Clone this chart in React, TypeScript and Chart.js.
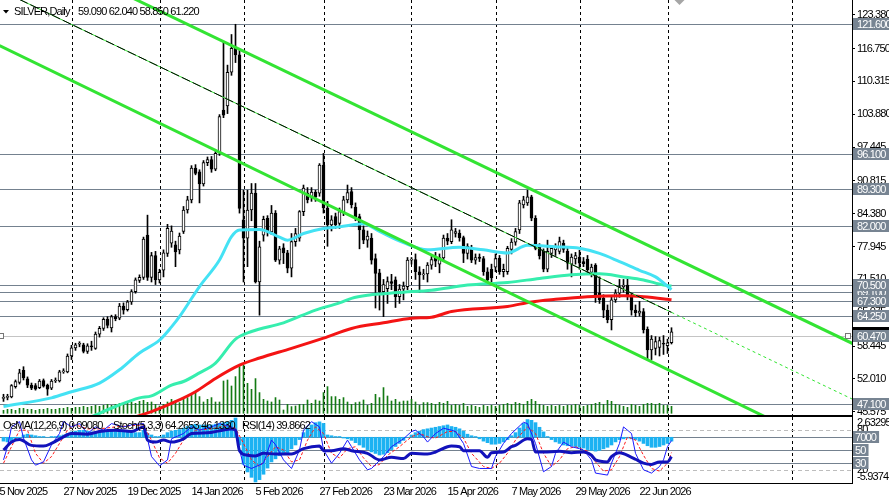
import React, { useEffect, useRef } from 'react';
import { Chart, registerables } from 'chart.js';
Chart.register(...registerables);

const FONT = '"Liberation Sans", Arial, sans-serif';
const LETTER_SPACING = '-0.85px';

// ---------- price data (daily bars, index 0 = 5 Nov 2025) ----------
const opens = [48.2,48.4,48.5,50.5,51.3,53.7,52.0,50.8,50.7,50.3, 51.7,50.8,50.2,51.6,51.6,53.4,53.4,56.5,58.1,58.8, 58.7,57.4,58.5,58.0,60.8,61.9,63.7,62.0,64.2,63.9, 66.3,65.6,67.1,69.1,71.3,71.9,80.2,71.9,76.2,71.4, 73.3,76.6,78.6,78.3,77.3,80.9,85.1,87.1,93.3,92.6, 90.2,94.4,95.0,93.1,96.3,104.7,105.5,112.1,116.8,115.5, 83.2,79.6,85.1,88.4,71.0,80.2,83.5,80.8,84.5,75.3, 77.7,76.7,73.7,78.9,79.6,84.8,88.4,87.6,88.6,88.4, 93.9,85.5,82.2,83.8,82.5,84.8,87.1,88.7,85.7,83.8, 81.2,79.2,79.6,75.6,72.8,69.1,69.7,71.1,71.4,68.1, 69.6,70.1,75.3,75.4,73.0,72.4,72.6,74.3,76.0,74.5, 75.7,79.6,78.9,80.5,80.6,79.7,76.6,77.6,75.3,75.9, 75.6,73.0,73.5,73.9,75.7,73.0,73.0,77.4,78.8,81.2, 86.1,86.5,87.7,83.5,77.9,77.0,73.5,76.6,77.3,77.0, 78.6,77.0,74.5,75.5,75.9,75.0,75.5,72.9,74.3,68.9, 67.8,65.5,63.6,67.5,68.8,70.1,70.4,68.1,65.5,64.9, 65.2,61.7,57.7,58.0,58.2,59.0,58.5,59.09];
const highs = [49.0,49.0,50.9,51.8,53.9,54.4,52.4,51.2,51.1,51.9, 52.0,51.0,51.9,52.2,53.7,54.0,56.9,58.6,59.0,59.3, 59.0,58.9,59.4,61.2,62.3,64.0,64.2,64.5,64.6,66.8, 66.9,67.4,69.5,71.8,72.4,79.8,84.1,76.8,77.0,73.5, 77.3,82.3,82.0,79.0,80.6,85.8,87.8,93.8,94.0,93.0, 94.8,95.5,95.6,96.6,103.8,118.0,113.5,119.5,121.5,116.5, 89.0,89.0,90.3,90.3,79.0,83.9,84.0,86.0,85.0,78.0, 78.5,77.2,80.5,81.5,85.0,90.0,89.5,89.5,89.0,94.2, 96.2,86.8,84.0,84.5,85.5,87.8,90.0,89.5,86.5,84.3, 82.0,81.0,80.5,76.5,73.5,71.5,72.0,72.5,72.0,70.5, 71.0,75.8,75.8,76.5,74.0,73.5,74.8,76.0,76.8,76.5, 80.2,80.5,83.2,81.5,81.2,80.0,78.5,78.2,76.5,76.5, 76.0,73.8,74.5,76.5,76.2,74.5,78.0,79.5,81.5,87.0, 87.8,89.0,88.0,84.0,78.5,77.5,79.2,78.0,78.5,79.8, 79.2,77.8,76.5,76.8,77.2,75.8,76.2,74.5,74.6,72.0, 68.5,66.5,68.2,69.5,71.5,71.5,71.8,68.8,66.5,67.2, 65.8,62.2,60.5,60.3,60.2,60.5,59.8,62.04];
const lows = [47.6,47.9,48.3,50.2,51.0,51.8,50.3,49.9,49.8,50.1, 50.4,48.8,49.9,51.3,51.4,53.1,53.2,55.8,57.6,58.3, 57.1,57.0,57.6,57.8,60.2,61.5,62.0,61.2,63.4,63.6, 64.7,65.3,66.6,68.8,70.9,71.5,71.3,71.0,70.5,70.8, 72.0,76.0,77.8,74.0,76.5,80.5,84.5,86.5,92.0,86.5, 89.8,93.8,92.5,92.8,95.8,103.2,104.0,111.5,114.0,84.5, 71.0,74.0,83.0,70.8,64.5,79.0,80.0,80.3,75.0,74.5, 74.6,72.8,72.0,78.0,79.0,84.0,86.5,86.8,86.8,87.8, 84.5,78.0,81.0,81.5,81.5,84.0,86.5,85.5,83.0,77.5, 78.5,77.8,74.5,65.9,65.5,64.2,66.8,69.5,66.0,66.8, 67.5,69.5,74.5,71.5,69.0,71.5,71.0,73.5,74.0,72.8, 75.0,78.3,78.5,79.8,79.0,74.8,75.5,74.8,74.5,75.0, 72.3,70.5,71.0,73.0,72.5,72.0,72.5,76.5,78.2,80.5, 85.5,86.0,83.0,77.3,75.5,73.0,73.0,75.8,76.2,76.5, 76.8,73.5,72.0,74.5,73.5,74.0,72.5,72.0,67.0,66.8, 64.0,63.0,61.6,67.0,68.0,69.0,67.5,64.5,64.2,64.3, 61.0,55.7,55.8,56.7,56.5,56.8,57.0,58.85];
const closes = [48.4,48.5,50.7,51.5,53.2,52.2,50.8,50.2,50.0,51.6, 50.6,50.0,51.6,51.8,53.4,53.6,56.5,58.1,58.7,58.9, 57.4,58.5,58.3,60.8,61.9,63.7,62.5,64.2,63.8,66.3, 65.5,67.1,69.1,71.4,71.9,79.4,71.9,76.2,71.4,72.9, 76.7,81.5,81.0,76.9,80.0,85.1,87.1,93.3,92.3,90.2, 94.4,95.0,93.1,96.2,103.4,103.7,112.1,116.8,115.5,85.4, 79.6,85.1,88.4,71.0,77.9,83.3,80.8,84.5,75.3,77.5, 76.7,73.7,78.9,80.5,84.8,89.4,87.1,88.6,87.6,93.9, 85.5,82.2,83.2,82.2,84.8,87.1,88.5,86.1,83.8,81.2, 79.2,80.0,75.3,72.7,69.1,70.5,71.1,70.7,68.1,69.6, 70.2,75.3,75.4,73.0,72.4,72.6,74.3,75.4,75.1,75.8, 79.6,79.0,81.2,80.9,79.7,76.6,78.0,75.3,75.8,75.6, 73.0,71.4,71.8,75.6,73.0,73.5,77.6,78.8,80.9,86.5, 87.1,87.7,83.5,77.6,76.1,73.5,77.0,77.6,77.9,78.9, 77.4,74.7,75.9,76.2,74.7,74.6,73.4,73.9,68.4,67.5, 65.5,63.6,67.5,68.9,70.1,70.4,68.1,65.5,65.0,65.3, 61.6,57.7,59.8,59.3,59.5,58.8,59.1,61.22];
const volumes = [3,4,4,3,5,5,4,4,3,4, 4,5,4,4,5,5,6,5,6,6, 7,6,7,8,7,8,9,8,9,10, 9,10,11,10,12,13,11,
  11.3,9,7.3,9,11.3,14,12.3,10.7,14,15.7, 18,20.7,16.7,11.3,14,15.7,11.3,11.3,32.3,33.3, 27.3,36.7,46.7,48,30,24,34.7,20.7,14,12.3, 11.3,15.7,13.3,3.3,9,6.7,7.3,9,9,13.3, 10,13.3,12.3,20.7,26.7,16.7,16.7,14,15.7,11.3, 9,10.7,11.3,13.3,8,10,19,15.7,25.7,17.3, 12.3,14,11.3,12.3,12.3,14,11.3,8,10.7,10.7,
  10,9,11,10,12, 8,9,8,10,7,8,7,6,8,7,8,7,8,9,10,9,11,10,9,12,14,12,9,8,7,8,7,8,7,8,8,9,8,7,8,9,10,11,9,13,12,9,8,7,6,9,8,7,9,10,10,9,10,8,8,7];

// moving averages (values read at selected bars)
const cyanIdx = [0,12,17,24,29,34,39,42,44,49,54,57,59,64,69,71,75,80,84,90,94,100,106,114,120,126,131,138,144,149,154,159,163,167];
const cyanVal = [46.6,48.3,49.5,51.2,53.8,57.1,59.6,62.2,64.2,70.1,75.3,79.9,81.2,81.3,79.8,79.2,80.5,81.5,81.8,82.4,80.9,78.7,77.3,77.8,77.3,76.7,78.2,77.9,77.6,76.6,75.0,73.3,72.0,69.5];
const aquaIdx = [22,28,34,37,42,45,49,53,58,62,70,78,84,87,91,95,100,107,116,126,134,142,149,155,160,165,167];
const aquaVal = [44.6,46.6,48.3,48.7,50.8,51.5,53.2,55.1,59.8,61.3,63.0,65.5,66.9,67.8,68.4,68.7,69.0,69.4,70.4,70.9,71.7,72.4,72.6,72.0,71.4,70.4,70.2];
const redIdx = [33,37,42,48,53,59,64,72,80,87,95,102,107,112,126,132,138,146,155,160,166,167];
const redVal = [44.6,45.6,47.2,49.5,52.1,54.7,56.1,58.0,60.0,61.9,63.0,63.9,64.1,65.2,66.2,67.1,67.6,68.1,68.3,68.1,67.6,67.5];

// trend channel (bar index / price end points)
const upperIdx = [30, 213];
const upperVal = [127.51, 58.67];
const lowerIdx = [-1, 213];
const lowerVal = [117.32, 36.0];
const midIdx = [4, 167];
const midVal = [126.37, 65.05];
const rayIdx = [167, 213];
const rayVal = [65.05, 47.75];

// horizontal levels
const levels = [121.6, 96.1, 89.3, 82.0, 69.1, 70.5, 67.3, 64.25, 60.47, 47.1];
const selectedLevel = 60.47;
const priceTicks = [123.38, 116.75, 110.315, 103.88, 97.445, 90.815, 84.38, 77.945, 71.51, 65.075, 58.445, 52.01, 45.575];

// time axis
const dateIdx = [0, 16, 32, 48, 64, 80, 96, 112, 128, 144, 160];
const dateLabels = ['5 Nov 2025', '27 Nov 2025', '19 Dec 2025', '14 Jan 2026', '5 Feb 2026', '27 Feb 2026', '23 Mar 2026', '15 Apr 2026', '7 May 2026', '29 May 2026', '22 Jun 2026'];
const monthSeps = [17.125, 39, 60, 80, 101.875, 123, 144, 166, 197];

// indicators
const osma = [-0.5,-0.6,-0.5,-0.3,-0.1,0.3,0.4,0.3,0.2,0.1,0.1,0.0,0.1,0.1,0.2,0.3,
  0.5,0.7,0.8,0.9,0.9,0.8,0.7,0.7,0.8,0.9,0.9,0.8,0.8,0.8,0.7,0.7,0.6,0.6,
  0.6,0.9,0.5,0.3,0.1,0.1,0.3,
  0.6,0.8,0.9,1.0,1.2,1.4,1.6,1.7,1.6,1.6,1.6,1.6,1.7,1.8,1.9,2.0,2.2,2.5,
  -1.0,-3.5,-4.5,-5.2,-5.8,-5.5,-4.8,-4.0,-3.2,-2.8,-2.4,-2.2,-2.0,-1.5,-1.0,-0.3,
  0.6,1.2,1.6,1.9,2.0,1.8,
  0.3,0.2,0.1,0.1,-0.1,-0.2,
  -0.4,-0.7,-1.0,-1.3,-1.6,-1.9,-2.1,-2.3,-2.2,-2.0,-1.6,-1.2,
  -0.8,-0.4,0.0,
  0.3,0.6,0.8,1.0,1.1,1.2,1.3,1.4,1.5,1.6,
  1.4,1.3,1.1,0.8,0.4,0.2,0.1,
  -0.2,-0.5,-0.7,-0.9,-0.9,-0.8,-0.6,-0.3,
  0.2,0.6,1.2,1.8,2.3,2.2,1.9,1.3,0.7,0.1,
  -0.3,-0.6,-0.8,-1.0,-1.1,-1.1,-1.2,-1.3,-1.4,-1.6,-1.7,-1.8,-1.7,-1.5,-1.3,-1.0,-0.6,
  -0.3,-0.2,-0.1,-0.2,-0.3,
  -0.5,-0.8,-1.1,-1.3,-1.3,-1.2,-1.0,-0.8,-0.5];
const stochKIdx = [0,1,2,4,5,7,8,10,12,14,15,17,19,21,23,25,27,30,32,35,36,37,39,41,42,45,47,49,52,54,57,58,59,60,62,65,67,68,70,72,74,75,77,79,80,82,84,86,87,89,91,92,95,97,100,102,103,105,106,108,110,112,113,115,117,119,122,123,125,127,130,131,133,135,137,138,140,142,144,145,147,148,151,152,154,155,157,158,160,162,164,165,166,167];
const stochKVal = [35,55,85,93,68,35,27,32,58,75,93,85,90,75,85,80,90,85,88,90,67,40,26,35,67,75,85,80,85,90,85,80,50,27,22,30,65,58,35,22,50,80,93,85,50,30,45,65,55,35,20,22,40,55,67,78,80,70,62,75,83,80,78,60,25,22,22,40,60,75,92,90,60,17,25,45,62,55,52,50,35,15,12,30,60,85,75,45,20,15,25,35,55,64.27];
const stochDIdx = [0,2,4,6,8,10,12,14,16,18,21,24,28,32,35,37,39,41,43,45,48,52,56,58,60,62,64,66,68,70,72,74,76,78,80,82,84,86,88,90,92,94,96,99,102,104,106,108,111,113,115,117,120,122,124,126,128,131,133,135,137,139,141,143,146,148,150,152,154,156,158,160,162,164,166,167];
const stochDVal = [30,55,80,80,45,30,40,60,80,88,82,82,85,87,88,65,38,30,45,65,80,82,87,83,60,35,25,40,55,50,32,35,65,85,75,45,38,52,55,38,25,28,42,55,70,75,70,68,78,78,68,45,25,22,30,45,65,85,75,45,25,35,52,55,48,32,18,20,40,70,65,42,22,18,30,46.13];
const rsiIdx = [0,2,4,7,10,12,15,17,21,24,28,32,35,36,38,40,42,45,47,51,54,57,58,59,61,63,65,68,72,75,79,80,82,85,87,91,94,97,100,102,106,108,111,112,114,115,119,121,122,125,127,128,131,132,133,135,139,142,145,147,148,151,152,154,157,158,160,162,164,166,167];
const rsiVal = [50,62,66,57,56,60,70,75,74,78,80,78,85,65,62,65,62,67,75,76,79,82,80,49,42,41,45,44,44,52,56,49,49,52,49,45,35,39,37,45,44,47,55,56,55,49,49,39,46,47,55,57,67,66,47,47,48,46,47,42,35,32,40,46,39,36,30,28,32,32,39.87];
const indLevelsSolid = [70, 50, 30];
const indLevelsDashed = [80, 20];

// ---------- layout constants ----------
const X_MIN = -0.875, X_MAX = 212.125;
const P_MIN = 44.74, P_MAX = 126.26;
const LEVEL_COLOR = '#74818f';
const BOX_COLOR = '#778492';

const pts = (ix: number[], vals: number[]) => ix.map((x, k) => ({ x, y: vals[k] }));

const condensedText = {
  id: 'condensedText',
  beforeDraw(chart: any) {
    try { (chart.ctx as any).letterSpacing = LETTER_SPACING; } catch (e) { /* ignore */ }
  },
};

const mainDeco = {
  id: 'mainDeco',
  beforeDatasetsDraw(chart: any) {
    const { ctx, chartArea: a, scales } = chart;
    const xs = scales.x, ys = scales.y;
    ctx.save();
    ctx.lineWidth = 1;
    ctx.strokeStyle = '#000';
    ctx.setLineDash([3, 3]);
    for (const s of monthSeps) {
      const x = Math.round(xs.getPixelForValue(s)) + 0.5;
      if (x > a.right) continue;
      ctx.beginPath(); ctx.moveTo(x, a.top); ctx.lineTo(x, a.bottom); ctx.stroke();
    }
    ctx.setLineDash([]);
    for (const lv of levels) {
      const y = Math.round(ys.getPixelForValue(lv)) + 0.5;
      ctx.strokeStyle = lv === selectedLevel ? '#c4c4c4' : LEVEL_COLOR;
      ctx.beginPath(); ctx.moveTo(a.left, y); ctx.lineTo(a.right, y); ctx.stroke();
    }
    ctx.restore();
  },
  afterDatasetsDraw(chart: any) {
    const { ctx, scales } = chart;
    const xs = scales.x, ys = scales.y;
    ctx.save();
    ctx.beginPath();
    ctx.rect(chart.chartArea.left, chart.chartArea.top, chart.chartArea.width, chart.chartArea.height);
    ctx.clip();
    const x0 = xs.getPixelForValue(midIdx[0]), y0 = ys.getPixelForValue(midVal[0]);
    const x1 = xs.getPixelForValue(midIdx[1]), y1 = ys.getPixelForValue(midVal[1]);
    ctx.lineWidth = 1;
    ctx.strokeStyle = '#33e433';
    ctx.beginPath(); ctx.moveTo(x0, y0); ctx.lineTo(x1, y1); ctx.stroke();
    ctx.strokeStyle = '#000';
    ctx.setLineDash([9, 3]);
    ctx.beginPath(); ctx.moveTo(x0, y0); ctx.lineTo(x1, y1); ctx.stroke();
    ctx.restore();
  },
  afterDraw(chart: any) {
    const { ctx, chartArea: a, scales } = chart;
    const xs = scales.x, ys = scales.y;
    ctx.save();
    ctx.strokeStyle = '#000'; ctx.lineWidth = 1;
    ctx.beginPath(); ctx.moveTo(0, a.bottom - 0.5); ctx.lineTo(a.right + 1, a.bottom - 0.5); ctx.stroke();
    ctx.font = '11px ' + FONT;
    ctx.textBaseline = 'middle';
    // current close marker (mostly hidden behind the level label)
    const lastClose = closes[closes.length - 1];
    const yc = Math.round(ys.getPixelForValue(lastClose));
    ctx.fillStyle = '#000';
    ctx.fillRect(a.right + 1, yc - 5, 40, 10);
    // level boxes
    for (const lv of levels) {
      const y = Math.round(ys.getPixelForValue(lv));
      ctx.fillStyle = BOX_COLOR;
      ctx.fillRect(a.right + 1, y - 6, 40, 12);
      ctx.fillStyle = '#fff';
      ctx.fillText(lv.toFixed(3), a.right + 5, y + 0.5);
    }
    // selection handles
    const ys2 = Math.round(ys.getPixelForValue(selectedLevel));
    ctx.fillStyle = '#fff'; ctx.strokeStyle = '#777';
    ctx.fillRect(0, ys2 - 2, 4, 5); ctx.strokeRect(-0.5, ys2 - 2.5, 4, 5);
    ctx.fillRect(a.right - 6, ys2 - 2, 5, 5); ctx.strokeRect(a.right - 6.5, ys2 - 2.5, 5, 5);
    // header
    ctx.fillStyle = '#000';
    ctx.beginPath(); ctx.moveTo(3, 10); ctx.lineTo(9, 10); ctx.lineTo(6, 13.5); ctx.closePath(); ctx.fill();
    ctx.fillText('SILVER,Daily', 14, 12);
    ctx.fillText('59.090 62.040 58.850 61.220', 78, 12);
    // chart shift marker
    const xm = xs.getPixelForValue(169);
    ctx.fillStyle = '#a6a6a6';
    ctx.beginPath(); ctx.moveTo(xm - 5, 0); ctx.lineTo(xm + 5, 0); ctx.lineTo(xm, 5); ctx.closePath(); ctx.fill();
    ctx.restore();
  },
};

const indDeco = {
  id: 'indDeco',
  beforeDatasetsDraw(chart: any) {
    const { ctx, chartArea: a, scales } = chart;
    const xs = scales.x, yi = scales.yi;
    ctx.save();
    ctx.lineWidth = 1;
    ctx.strokeStyle = '#000';
    ctx.setLineDash([3, 3]);
    for (const s of monthSeps) {
      const x = Math.round(xs.getPixelForValue(s)) + 0.5;
      if (x > a.right) continue;
      ctx.beginPath(); ctx.moveTo(x, a.top); ctx.lineTo(x, a.bottom); ctx.stroke();
    }
    ctx.strokeStyle = '#bdbdbd';
    ctx.setLineDash([4, 3]);
    for (const lv of indLevelsDashed) {
      const y = Math.round(yi.getPixelForValue(lv)) + 0.5;
      ctx.beginPath(); ctx.moveTo(a.left, y); ctx.lineTo(a.right, y); ctx.stroke();
    }
    ctx.setLineDash([]);
    ctx.strokeStyle = LEVEL_COLOR;
    for (const lv of indLevelsSolid) {
      const y = Math.round(yi.getPixelForValue(lv)) + 0.5;
      ctx.beginPath(); ctx.moveTo(a.left, y); ctx.lineTo(a.right, y); ctx.stroke();
    }
    ctx.restore();
  },
  afterDraw(chart: any) {
    const { ctx, chartArea: a, scales } = chart;
    const xs = scales.x, yi = scales.yi;
    ctx.save();
    ctx.strokeStyle = '#000'; ctx.lineWidth = 1;
    ctx.beginPath(); ctx.moveTo(0, a.top - 0.5); ctx.lineTo(a.right + 1, a.top - 0.5); ctx.stroke();
    ctx.beginPath(); ctx.moveTo(0, a.bottom + 0.5); ctx.lineTo(a.right + 1, a.bottom + 0.5); ctx.stroke();
    ctx.font = '11px ' + FONT;
    ctx.textBaseline = 'middle';
    ctx.fillStyle = '#000';
    ctx.fillText('OsMA(12,26,9) 0.09080', 3, a.top + 9);
    ctx.fillText('Stoch(5,3,3) 64.2653 46.1330', 113, a.top + 9);
    ctx.fillText('RSI(14) 39.8662', 242, a.top + 9);
    const tx = a.right + 5;
    ctx.fillText('2.63295', tx, a.top + 5.5);
    ctx.fillText('80', tx, yi.getPixelForValue(80));
    ctx.fillText('20', tx, yi.getPixelForValue(20));
    ctx.fillText('-5.9374', tx, a.bottom - 6);
    for (const lv of indLevelsSolid) {
      const y = Math.round(yi.getPixelForValue(lv));
      const txt = lv === 70 ? '7000' : String(lv);
      const w = ctx.measureText(txt).width + 5;
      ctx.fillStyle = BOX_COLOR;
      ctx.fillRect(a.right + 1, y - 6, w, 12);
      ctx.fillStyle = '#fff';
      ctx.fillText(txt, a.right + 3, y + 0.5);
    }
    ctx.fillStyle = '#000';
    dateIdx.forEach((ix, k) => {
      const x = xs.getPixelForValue(ix) - 4;
      ctx.fillText(dateLabels[k], x, a.bottom + 9);
    });
    ctx.restore();
  },
};

function App() {
  const mainRef = useRef<HTMLCanvasElement>(null);
  const indRef = useRef<HTMLCanvasElement>(null);

  useEffect(() => {
    document.body.style.margin = '0';
    const idx = closes.map((_, i) => i);
    const bodyColors = closes.map((c, i) => (c >= opens[i] ? '#ffffff' : '#000000'));

    const main = new Chart(mainRef.current as HTMLCanvasElement, {
      type: 'bar',
      data: {
        datasets: [
          { type: 'bar', yAxisID: 'yv', data: volumes.map((v, i) => ({ x: i, y: v })), backgroundColor: '#137a13', barThickness: 1, grouped: false, order: 20 } as any,
          { type: 'bar', yAxisID: 'y', data: idx.map((i) => ({ x: i, y: [lows[i], highs[i]] })), backgroundColor: '#000', barThickness: 1, grouped: false, order: 15 } as any,
          { type: 'bar', yAxisID: 'y', data: idx.map((i) => ({ x: i, y: [opens[i], closes[i]] })), backgroundColor: bodyColors, borderColor: '#000', borderWidth: 1, borderSkipped: false, barThickness: 3, grouped: false, minBarLength: 1, order: 14 } as any,
          { type: 'line', yAxisID: 'y', data: pts(redIdx, redVal), borderColor: '#f41414', borderWidth: 3, pointRadius: 0, cubicInterpolationMode: 'monotone', order: 9 } as any,
          { type: 'line', yAxisID: 'y', data: pts(aquaIdx, aquaVal), borderColor: '#36eeae', borderWidth: 3, pointRadius: 0, cubicInterpolationMode: 'monotone', order: 8 } as any,
          { type: 'line', yAxisID: 'y', data: pts(cyanIdx, cyanVal), borderColor: '#44e2f4', borderWidth: 3, pointRadius: 0, cubicInterpolationMode: 'monotone', order: 7 } as any,
          { type: 'line', yAxisID: 'y', data: pts(upperIdx, upperVal), borderColor: '#33e433', borderWidth: 3, pointRadius: 0, order: 5 } as any,
          { type: 'line', yAxisID: 'y', data: pts(lowerIdx, lowerVal), borderColor: '#33e433', borderWidth: 3, pointRadius: 0, order: 5 } as any,
          { type: 'line', yAxisID: 'y', data: pts(rayIdx, rayVal), borderColor: '#33e433', borderWidth: 1, borderDash: [3, 3], pointRadius: 0, order: 4 } as any,
        ],
      },
      options: {
        responsive: false,
        animation: false,
        devicePixelRatio: 1,
        events: [],
        layout: { padding: 0, autoPadding: false },
        plugins: { legend: { display: false }, tooltip: { enabled: false } },
        scales: {
          x: { type: 'linear', min: X_MIN, max: X_MAX, offset: false, display: false },
          y: {
            type: 'linear', position: 'right', min: P_MIN, max: P_MAX,
            afterBuildTicks: (s: any) => { s.ticks = priceTicks.map((v) => ({ value: v })); },
            afterFit: (s: any) => { s.width = 37; s.paddingTop = 0; s.paddingBottom = 0; },
            ticks: { font: { family: FONT, size: 11 }, color: '#000', padding: 2, autoSkip: false, callback: (v: any) => Number(v).toFixed(3) },
            grid: { drawOnChartArea: false, tickLength: 3, color: '#000' },
            border: { color: '#000' },
          },
          yv: { type: 'linear', display: false, min: -2.7, max: 413.3 },
        },
      } as any,
      plugins: [condensedText, mainDeco],
    });

    const ind = new Chart(indRef.current as HTMLCanvasElement, {
      type: 'bar',
      data: {
        datasets: [
          { type: 'bar', yAxisID: 'yo', data: osma.map((v, i) => ({ x: i, y: v })), backgroundColor: '#1cb2f2', barThickness: 3, grouped: false, order: 10 } as any,
          { type: 'line', yAxisID: 'yi', data: pts(stochDIdx, stochDVal), borderColor: '#ff1c1c', borderWidth: 1, borderDash: [3, 2], pointRadius: 0, order: 4 } as any,
          { type: 'line', yAxisID: 'yi', data: pts(stochKIdx, stochKVal), borderColor: '#1a1aff', borderWidth: 1, pointRadius: 0, order: 3 } as any,
          { type: 'line', yAxisID: 'yi', data: pts(rsiIdx, rsiVal), borderColor: '#1212bb', borderWidth: 3, pointRadius: 0, cubicInterpolationMode: 'monotone', order: 1 } as any,
        ],
      },
      options: {
        responsive: false,
        animation: false,
        devicePixelRatio: 1,
        events: [],
        layout: { padding: { top: 1, left: 0, right: 0, bottom: 0 }, autoPadding: false },
        plugins: { legend: { display: false }, tooltip: { enabled: false } },
        scales: {
          x: {
            type: 'linear', min: X_MIN, max: X_MAX, offset: false, position: 'bottom',
            ticks: { display: false }, grid: { display: false, drawTicks: false }, border: { display: false },
            afterFit: (s: any) => { s.height = 17; s.paddingLeft = 0; s.paddingRight = 0; },
          },
          yi: {
            type: 'linear', position: 'right', min: 0, max: 100,
            ticks: { display: false }, grid: { display: false, drawTicks: false }, border: { color: '#000' },
            afterFit: (s: any) => { s.width = 37; s.paddingTop = 0; s.paddingBottom = 0; },
          },
          yo: { type: 'linear', display: false, min: -5.9374, max: 2.63295 },
        },
      } as any,
      plugins: [condensedText, indDeco],
    });

    return () => { main.destroy(); ind.destroy(); };
  }, []);

  return (
    <div style={{ position: 'fixed', left: 0, top: 0, width: 889, height: 500, background: '#fff', overflow: 'hidden' }}>
      <canvas ref={mainRef} width={889} height={416} style={{ position: 'absolute', left: 0, top: 0, width: 889, height: 416 }} />
      <canvas ref={indRef} width={889} height={84} style={{ position: 'absolute', left: 0, top: 416, width: 889, height: 84 }} />
    </div>
  );
}

export default App;
